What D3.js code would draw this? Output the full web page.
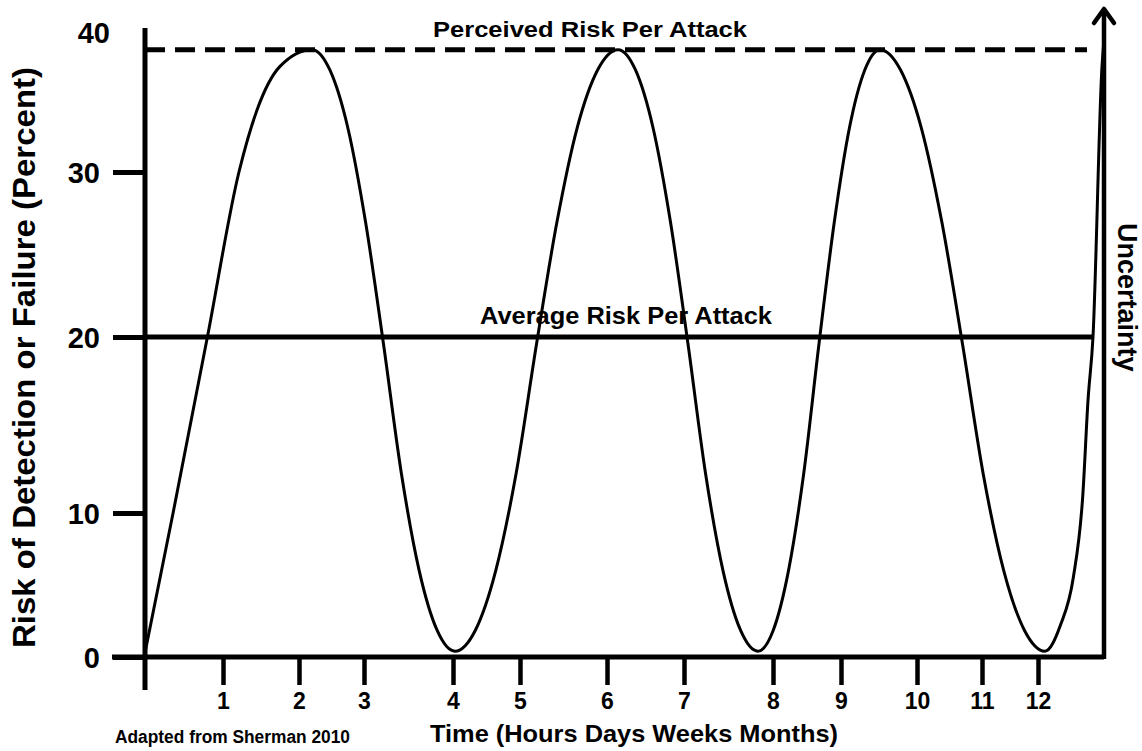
<!DOCTYPE html>
<html>
<head>
<meta charset="utf-8">
<script src="https://cdn.jsdelivr.net/npm/d3@7"></script>
<style>
  body { margin: 0; background: #fff; }
  svg text { font-family: "Liberation Sans", Arial, sans-serif; font-weight: bold; fill: #000; }
  .axis text { font-family: "Liberation Sans", Arial, sans-serif; font-weight: bold; }
  .yaxis text { font-size: 29px; }
  .xaxis text { font-size: 23px; }
</style>
</head>
<body>
<div id="chart"></div>
<script>
var xTicks = [1, 2, 3, 4, 5, 6, 7, 8, 9, 10, 11, 12];
var yTicks = [0, 10, 20, 30];
var yTopLabel = 40;
var perceivedRisk = 38.8;
var averageRisk = 20;

// risk curve (time units, percent)
var curveTime = [0, 0.36, 0.8, 1.21, 1.45, 1.75, 2.2,
                 2.475, 2.75, 3.018, 3.219, 3.42, 3.62, 3.821, 4.03,
                 4.334, 4.638, 4.942, 5.19, 5.424, 5.658, 5.892, 6.143,
                 6.37, 6.597, 6.825, 7.045, 7.242, 7.438, 7.635, 7.831,
                 8.004, 8.228, 8.452, 8.676, 8.901, 9.112, 9.313, 9.513,
                 9.784, 10.065, 10.383, 10.7, 11.02, 11.388, 11.757, 12.125,
                 12.4, 12.63, 12.8, 12.893, 12.982, 13.143, 13.179];
var curveRisk = [0.3, 10, 20, 30, 34.5, 37.6, 38.8,
                 37.34, 33.2, 26.95, 19.6, 12.25, 6.0, 1.86, 0.4,
                 1.86, 6.0, 12.25, 19.6, 26.95, 33.2, 37.34, 38.8,
                 37.34, 33.2, 26.95, 19.6, 12.25, 6.0, 1.86, 0.4,
                 1.86, 6.0, 12.25, 19.6, 26.95, 33.2, 37.34, 38.8,
                 37.34, 33.2, 26.95, 19.6, 12.25, 6.0, 1.86, 0.4,
                 2.2, 5.5, 11, 16.4, 20, 37.6, 39.5];

var width = 1142, height = 751;

var svg = d3.select("#chart").append("svg")
    .attr("width", width)
    .attr("height", height);

// the original's ticks are unevenly spaced, so both scales are piecewise
var x = d3.scaleLinear()
    .domain([0, 1, 2, 3, 4, 5, 6, 7, 8, 9, 10, 11, 12])
    .range([145, 223, 299, 364, 453, 520, 607, 684, 773, 841, 917, 982, 1038]);
var y = d3.scaleLinear()
    .domain([0, 10, 20, 30, 40])
    .range([657, 513, 337, 172, 33]);

var x0 = x(0), xRight = 1104, y0 = y(0);

// Y axis
var yAxis = svg.append("g")
    .attr("class", "axis yaxis")
    .attr("transform", "translate(" + x0 + ",0)")
    .call(d3.axisLeft(y).tickValues(yTicks).tickSize(32).tickPadding(13));
yAxis.select(".domain").remove();
yAxis.selectAll(".tick line").attr("stroke", "#000").attr("stroke-width", 5);
yAxis.selectAll(".tick text").attr("dy", "0.36em");

svg.append("text")
    .attr("x", x0 - 35)
    .attr("y", y(yTopLabel))
    .attr("dy", "0.36em")
    .attr("text-anchor", "end")
    .style("font-size", "29px")
    .text(yTopLabel);

// X axis
var xAxis = svg.append("g")
    .attr("class", "axis xaxis")
    .attr("transform", "translate(0," + y0 + ")")
    .call(d3.axisBottom(x).tickValues(xTicks).tickSize(28).tickPadding(8));
xAxis.select(".domain").remove();
xAxis.selectAll(".tick line").attr("stroke", "#000").attr("stroke-width", 4.5);

// axis lines
svg.append("line")
    .attr("x1", 112).attr("x2", xRight)
    .attr("y1", y0).attr("y2", y0)
    .attr("stroke", "#000").attr("stroke-width", 5);
svg.append("line")
    .attr("x1", x0).attr("x2", x0)
    .attr("y1", y(yTopLabel) - 5).attr("y2", y0 + 33)
    .attr("stroke", "#000").attr("stroke-width", 5);
svg.append("line")
    .attr("x1", xRight).attr("x2", xRight)
    .attr("y1", y0 + 2).attr("y2", 9)
    .attr("stroke", "#000").attr("stroke-width", 4.5);
svg.append("polyline")
    .attr("points", [[xRight - 10, 23], [xRight, 9], [xRight + 10, 23]].join(" "))
    .attr("fill", "none")
    .attr("stroke", "#000").attr("stroke-width", 4.5)
    .attr("stroke-linecap", "round").attr("stroke-linejoin", "round");

// reference lines
svg.append("line")
    .attr("x1", x0).attr("x2", xRight - 17)
    .attr("y1", y(perceivedRisk)).attr("y2", y(perceivedRisk))
    .attr("stroke", "#000").attr("stroke-width", 5)
    .attr("stroke-dasharray", "20,10");
svg.append("line")
    .attr("x1", x0).attr("x2", xRight - 12)
    .attr("y1", y(averageRisk)).attr("y2", y(averageRisk))
    .attr("stroke", "#000").attr("stroke-width", 5);

// risk curve
var points = curveTime.map(function(t, i) { return [t, curveRisk[i]]; });
var line = d3.line()
    .x(function(d) { return x(d[0]); })
    .y(function(d) { return y(d[1]); })
    .curve(d3.curveMonotoneX);
svg.append("path")
    .datum(points)
    .attr("d", line)
    .attr("fill", "none")
    .attr("stroke", "#000")
    .attr("stroke-width", 3);

// labels
svg.append("text")
    .attr("x", 433).attr("y", 37)
    .attr("textLength", 314).attr("lengthAdjust", "spacingAndGlyphs")
    .style("font-size", "22px")
    .text("Perceived Risk Per Attack");

svg.append("text")
    .attr("x", 480).attr("y", 324)
    .attr("textLength", 292).attr("lengthAdjust", "spacingAndGlyphs")
    .style("font-size", "24px")
    .text("Average Risk Per Attack");

svg.append("text")
    .attr("x", 430).attr("y", 742)
    .attr("textLength", 408).attr("lengthAdjust", "spacingAndGlyphs")
    .style("font-size", "24px")
    .text("Time (Hours Days Weeks Months)");

svg.append("text")
    .attr("x", 115).attr("y", 743)
    .attr("textLength", 235).attr("lengthAdjust", "spacingAndGlyphs")
    .style("font-size", "18px")
    .text("Adapted from Sherman 2010");

svg.append("text")
    .attr("transform", "translate(35,648) rotate(-90)")
    .attr("textLength", 581).attr("lengthAdjust", "spacingAndGlyphs")
    .style("font-size", "32px")
    .text("Risk of Detection or Failure (Percent)");

svg.append("text")
    .attr("transform", "translate(1118,223) rotate(90)")
    .style("font-size", "27px")
    .text("Uncertainty");
</script>
</body>
</html>
